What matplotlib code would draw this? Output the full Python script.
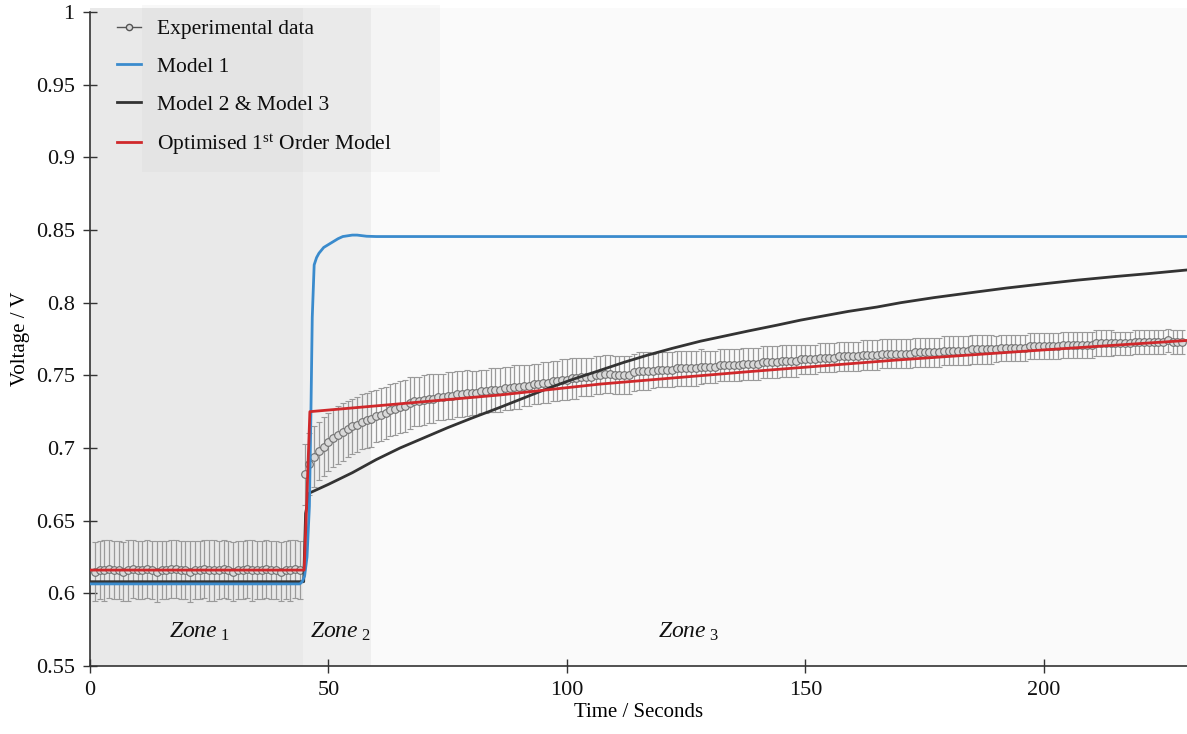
import matplotlib
matplotlib.use("Agg")
import matplotlib.pyplot as plt
import numpy as np
from matplotlib.lines import Line2D
from matplotlib.patches import Rectangle

# Experimental data (mean and error, one reading per second from t = 1 s)
exp_time = np.arange(1, 230)
exp_volt = [
    0.615, 0.616, 0.616, 0.617, 0.616, 0.616, 0.615, 0.616, 0.617, 0.616,
    0.616, 0.617, 0.616, 0.615, 0.616, 0.616, 0.617, 0.617, 0.616, 0.616,
    0.615, 0.616, 0.616, 0.617, 0.616, 0.616, 0.616, 0.617, 0.616, 0.615,
    0.616, 0.616, 0.617, 0.616, 0.616, 0.616, 0.617, 0.616, 0.616, 0.615,
    0.616, 0.616, 0.617, 0.616,
    0.682, 0.689, 0.694, 0.698, 0.701, 0.704, 0.707, 0.709, 0.711, 0.713,
    0.715, 0.716, 0.718, 0.719, 0.720,
    0.722, 0.723, 0.724, 0.726, 0.727, 0.728, 0.729, 0.731,
    0.732, 0.732, 0.733, 0.734, 0.734, 0.735, 0.735, 0.736, 0.736, 0.737,
    0.737, 0.738, 0.738, 0.738, 0.739, 0.739, 0.740, 0.740, 0.740,
    0.741, 0.741, 0.742, 0.742, 0.743, 0.743, 0.744, 0.744, 0.745, 0.745,
    0.746, 0.746, 0.747, 0.747, 0.748, 0.748, 0.749, 0.749, 0.749, 0.750,
    0.750,
    0.751, 0.751, 0.750, 0.750, 0.750, 0.750, 0.752, 0.753, 0.753, 0.753,
    0.753, 0.754, 0.754, 0.754, 0.754, 0.755, 0.755, 0.755, 0.755, 0.755,
    0.756, 0.756, 0.756, 0.756, 0.757, 0.757, 0.757, 0.757, 0.757, 0.758,
    0.758,
    0.758, 0.758, 0.759, 0.759, 0.759, 0.759, 0.760, 0.760, 0.760, 0.760,
    0.761, 0.761, 0.761, 0.761, 0.762, 0.762, 0.762, 0.762, 0.763, 0.763,
    0.763, 0.763, 0.763, 0.764, 0.764, 0.764, 0.764, 0.765, 0.765, 0.765,
    0.765,
    0.765, 0.765, 0.765, 0.766, 0.766, 0.766, 0.766, 0.766, 0.766, 0.767,
    0.767, 0.767, 0.767, 0.767, 0.767, 0.768, 0.768, 0.768, 0.768, 0.768,
    0.768, 0.769, 0.769, 0.769, 0.769, 0.769, 0.769, 0.770, 0.770, 0.770,
    0.770, 0.770, 0.770, 0.770, 0.771, 0.771, 0.771, 0.771, 0.771, 0.771,
    0.771, 0.772, 0.772, 0.772, 0.772, 0.772, 0.772, 0.772, 0.772, 0.773,
    0.773, 0.773, 0.773, 0.773, 0.773, 0.773, 0.774, 0.773, 0.773, 0.773,
]
exp_err = [
    0.020, 0.020, 0.021, 0.020, 0.020, 0.020, 0.020, 0.021, 0.020, 0.020,
    0.020, 0.020, 0.020, 0.021, 0.020, 0.020, 0.020, 0.020, 0.020, 0.020,
    0.021, 0.020, 0.020, 0.020, 0.021, 0.021, 0.020, 0.020, 0.020, 0.020,
    0.020, 0.020, 0.020, 0.021, 0.020, 0.020, 0.020, 0.020, 0.020, 0.020,
    0.020, 0.021, 0.020, 0.020,
    0.021, 0.021, 0.021, 0.020, 0.020, 0.020, 0.020, 0.020, 0.020, 0.019,
    0.019, 0.019, 0.019, 0.019, 0.019,
    0.018, 0.018, 0.018, 0.018, 0.018, 0.018, 0.018, 0.018,
    0.017, 0.017, 0.017, 0.017, 0.017, 0.016, 0.016, 0.016, 0.016, 0.016,
    0.016, 0.016, 0.015, 0.015, 0.015, 0.015, 0.015, 0.015, 0.015,
    0.015, 0.015, 0.015, 0.015, 0.014, 0.014, 0.014, 0.014, 0.014, 0.014,
    0.014, 0.014, 0.014, 0.014, 0.014, 0.014, 0.013, 0.013, 0.013, 0.013,
    0.013,
    0.013, 0.013, 0.013, 0.013, 0.013, 0.013, 0.013, 0.013, 0.013, 0.013,
    0.012, 0.012, 0.012, 0.012, 0.012, 0.012, 0.012, 0.012, 0.012, 0.012,
    0.012, 0.011, 0.011, 0.011, 0.011, 0.011, 0.011, 0.011, 0.011, 0.011,
    0.011,
    0.011, 0.011, 0.011, 0.011, 0.011, 0.011, 0.011, 0.011, 0.011, 0.011,
    0.010, 0.010, 0.010, 0.010, 0.010, 0.010, 0.010, 0.010, 0.010, 0.010,
    0.010, 0.010, 0.010, 0.010, 0.010, 0.010, 0.010, 0.010, 0.010, 0.010,
    0.010,
    0.010, 0.010, 0.010, 0.010, 0.010, 0.010, 0.010, 0.010, 0.010, 0.010,
    0.010, 0.010, 0.010, 0.010, 0.010, 0.010, 0.010, 0.010, 0.010, 0.010,
    0.009, 0.009, 0.009, 0.009, 0.009, 0.009, 0.009, 0.009, 0.009, 0.009,
    0.009, 0.009, 0.009, 0.009, 0.009, 0.009, 0.009, 0.009, 0.009, 0.009,
    0.009, 0.009, 0.009, 0.009, 0.009, 0.008, 0.008, 0.008, 0.008, 0.008,
    0.008, 0.008, 0.008, 0.008, 0.008, 0.008, 0.008, 0.008, 0.008, 0.008,
]

# Model 1
m1_time = [0, 44, 44.5, 45, 45.5, 46, 46.3, 46.6, 47, 47.5, 48, 49, 50,
           51, 52, 53, 54, 55, 56, 58, 60, 230]
m1_volt = [0.6065, 0.6065, 0.608, 0.612, 0.625, 0.66, 0.72, 0.79, 0.826,
           0.831, 0.834, 0.838, 0.840, 0.842, 0.844, 0.8455, 0.846, 0.8465,
           0.8465, 0.8457, 0.8455, 0.8455]

# Model 2 & Model 3
m2_time = [0, 44.8, 45.2, 46, 50, 55, 60, 65, 70, 75, 80, 86, 91, 96, 101,
           107, 112, 117, 122, 128, 133, 138, 144, 149, 154, 159, 165, 170,
           177, 185, 192, 200, 207, 215, 222, 230]
m2_volt = [0.608, 0.608, 0.655, 0.669, 0.675, 0.683, 0.692, 0.700, 0.707,
           0.714, 0.7205, 0.728, 0.7345, 0.741, 0.747, 0.7535, 0.759, 0.764,
           0.7685, 0.7735, 0.777, 0.7805, 0.7845, 0.788, 0.791, 0.794, 0.797,
           0.800, 0.8035, 0.807, 0.810, 0.813, 0.8155, 0.818, 0.820, 0.8225]

# Optimised 1st order model
opt_time = [0, 44.9, 45.3, 46.1, 67, 86, 107, 138, 169, 200, 230]
opt_volt = [0.616, 0.616, 0.65, 0.725, 0.731, 0.7365, 0.744, 0.7525, 0.7605,
            0.7675, 0.774]

# Zones
zone_edges = [0, 44.6, 59, 230]
zone_colors = ['#e9e9e9', '#efefef', '#fafafa']
zone_names = ['1', '2', '3']
zone_text_x = [23, 52.5, 125.5]

yticks = [0.55, 0.6, 0.65, 0.7, 0.75, 0.8, 0.85, 0.9, 0.95, 1.0]
ytick_labels = ['0.55', '0.6', '0.65', '0.7', '0.75', '0.8', '0.85', '0.9', '0.95', '1']
xticks = [0, 50, 100, 150, 200]

plt.rcParams['font.family'] = 'Liberation Serif'
plt.rcParams['mathtext.fontset'] = 'custom'
plt.rcParams['mathtext.rm'] = 'Liberation Serif'
plt.rcParams['mathtext.it'] = 'Liberation Serif:italic'

fig = plt.figure(figsize=(11.87, 7.34), dpi=100)
ax = fig.add_axes([90 / 1187, 68 / 734, 1097 / 1187, 654 / 734])

# zone backgrounds (reach a little above the top tick, as in the original)
for i in range(3):
    ax.add_patch(Rectangle((zone_edges[i], 0.55), zone_edges[i + 1] - zone_edges[i], 0.453,
                           facecolor=zone_colors[i], lw=0, zorder=0, clip_on=False))
    ax.text(zone_text_x[i], 0.5735, r'$\mathit{Zone}_{\ \mathit{' + zone_names[i] + '}}$',
            fontsize=17, ha='center', va='center', color='#111111')

# experimental data with error bars
ax.errorbar(exp_time, exp_volt, yerr=exp_err, fmt='o', ms=5.5, mfc='#d9d9d9',
            mec='#707070', mew=0.8, ecolor='#9a9a9a', elinewidth=0.9,
            capsize=2, capthick=0.9, zorder=2)

# models
ax.plot(m2_time, m2_volt, color='#333333', lw=2, zorder=3)
ax.plot(m1_time, m1_volt, color='#3a8bcd', lw=2, zorder=4)
ax.plot(opt_time, opt_volt, color='#d0282b', lw=2, zorder=5)

ax.set_xlim(0, 230)
ax.set_ylim(0.55, 1.0)
ax.set_yticks(yticks)
ax.set_yticklabels(ytick_labels)
ax.set_xticks(xticks)
ax.tick_params(direction='inout', length=10, width=1, color='#333333',
               labelsize=16, labelcolor='#111111', pad=6)

for s in ['top', 'right']:
    ax.spines[s].set_visible(False)
for s in ['left', 'bottom']:
    ax.spines[s].set_color('#333333')
    ax.spines[s].set_linewidth(1.2)

ax.set_xlabel('Time / Seconds', fontsize=15, labelpad=2)
ax.set_ylabel('Voltage / V', fontsize=15, labelpad=4)

# legend box (drawn separately, offset from handles as in the original)
box = Rectangle((142 / 1187, 1 - 172 / 734), 298 / 1187, 167 / 734,
                transform=fig.transFigure, facecolor='#b0b0b0', alpha=0.08,
                edgecolor='none', zorder=6)
fig.patches.append(box)

handles = [
    Line2D([], [], color='#555555', lw=1, marker='o', ms=4.5,
           mfc='#d9d9d9', mec='#555555'),
    Line2D([], [], color='#3a8bcd', lw=2),
    Line2D([], [], color='#333333', lw=2),
    Line2D([], [], color='#d0282b', lw=2),
]
labels = ['Experimental data', 'Model 1', 'Model 2 & Model 3',
          r'Optimised 1$^{\mathrm{st}}$ Order Model']
ax.legend(handles, labels, loc='upper left',
          bbox_to_anchor=(117 / 1187, 1 - 19 / 734), bbox_transform=fig.transFigure,
          frameon=False, fontsize=15.5, handlelength=1.12, handletextpad=0.75,
          labelspacing=0.82, borderpad=0, borderaxespad=0)

fig.savefig('out.png', dpi=100, facecolor='white')
